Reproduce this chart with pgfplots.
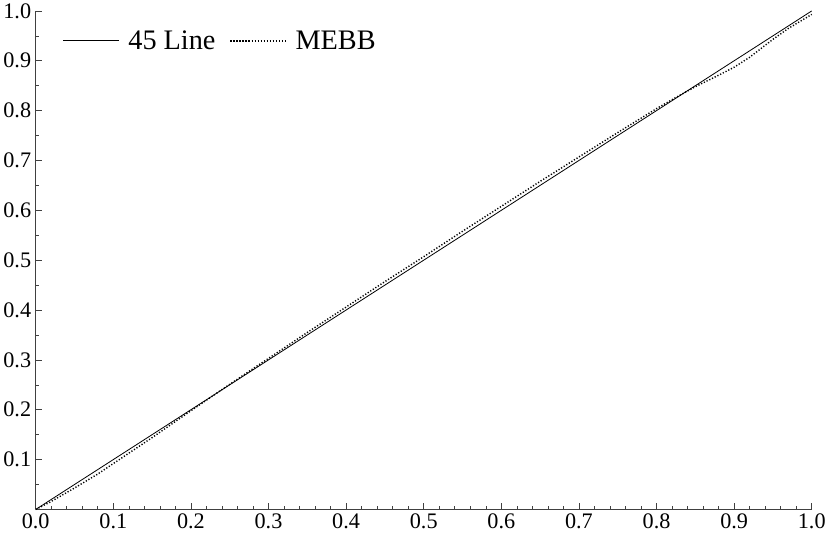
\documentclass[border=0pt]{standalone}
\usepackage{fontspec}
\setmainfont{Liberation Serif}
\usepackage{pgfplots}
\pgfplotsset{compat=1.18}
\begin{document}
\begin{tikzpicture}[x=1pt,y=1pt]
\begin{axis}[
  scale only axis,
  width=769pt, height=494pt,
  xmin=0, xmax=1, ymin=0, ymax=1,
  axis lines*=left,
  axis line style={line width=0.6pt, black!75},
  tick align=inside,
  tick style={black!75, line width=0.6pt},
  major tick length=6pt,
  minor tick length=3.5pt,
  xtick={0,0.1,...,1.0},
  ytick={0.1,0.2,...,1.0},
  minor xtick={0.02,0.04,0.06,0.08,0.12,0.14,0.16,0.18,0.22,0.24,0.26,0.28,0.32,0.34,0.36,0.38,0.42,0.44,0.46,0.48,0.52,0.54,0.56,0.58,0.62,0.64,0.66,0.68,0.72,0.74,0.76,0.78,0.82,0.84,0.86,0.88,0.92,0.94,0.96,0.98},
  minor ytick={0.05,0.15,0.25,0.35,0.45,0.55,0.65,0.75,0.85,0.95},
  /pgf/number format/assume math mode=true,
  /pgf/number format/fixed,
  /pgf/number format/fixed zerofill,
  /pgf/number format/precision=1,
  tick label style={font=\fontsize{22}{25}\selectfont},
  xticklabel style={yshift=-1pt},
  yticklabel style={xshift=-1pt},
  clip=false,
  legend columns=2,
  legend cell align=left,
  legend style={at={(axis cs:0.031,0.94)}, anchor=west, draw=none, fill=none,
    font=\fontsize{28}{31}\selectfont,
    /tikz/every even column/.append style={column sep=12pt}},
  legend image code/.code={\draw[#1] (0pt,0pt) -- (55pt,0pt); \path (62pt,0pt);},
]
\addplot[black, line width=0.8pt] coordinates {(0,0) (1,1)};
\addlegendentry{45 Line}
\addplot[black, line width=1.4pt, dash pattern=on 1.2pt off 1.8pt] coordinates {
(0,0) (0.02,0.016) (0.05,0.043) (0.08,0.071) (0.1,0.092) (0.15,0.144)
(0.2,0.198) (0.25,0.251) (0.3,0.303) (0.35,0.355) (0.4,0.406) (0.45,0.457)
(0.5,0.507) (0.55,0.558) (0.6,0.608) (0.65,0.658) (0.7,0.707) (0.75,0.756)
(0.8,0.804) (0.82,0.822) (0.85,0.848) (0.88,0.871) (0.9,0.887) (0.92,0.907)
(0.95,0.943) (0.97,0.965) (1.0,0.993)};
\addlegendentry{MEBB}
\end{axis}
\end{tikzpicture}
\end{document}
